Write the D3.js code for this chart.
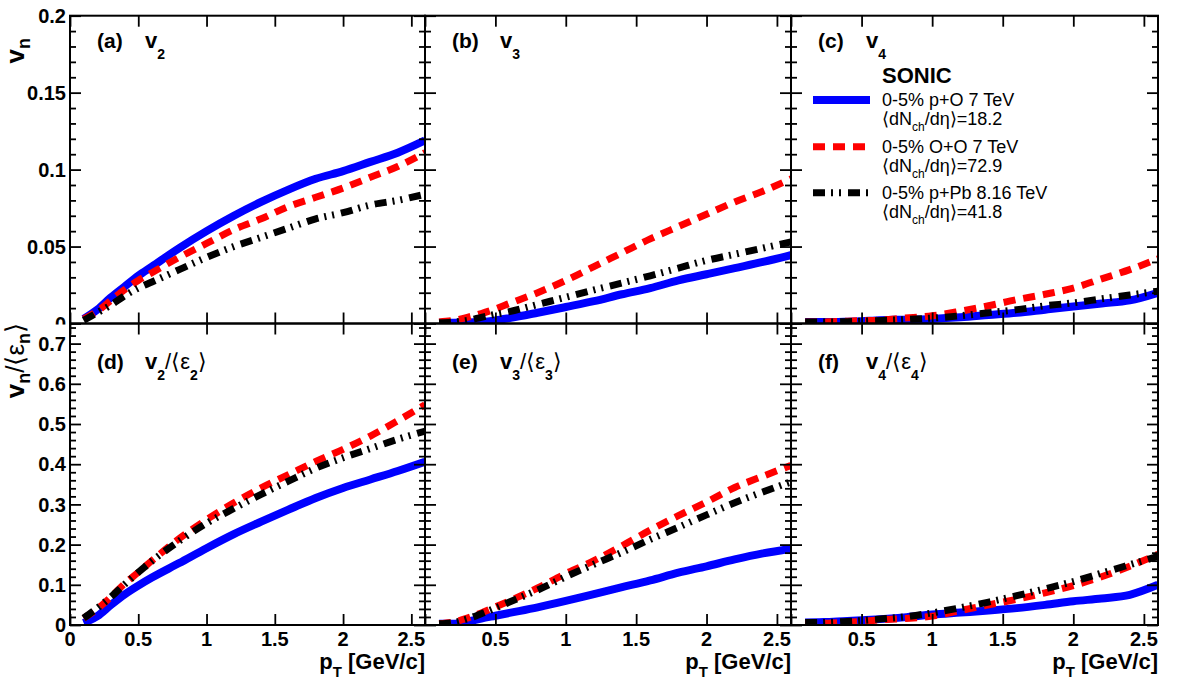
<!DOCTYPE html>
<html><head><meta charset="utf-8">
<script src="https://cdn.jsdelivr.net/npm/d3@7"></script>
<style>
body{margin:0;background:#fff}
svg{display:block}
text{font-family:"Liberation Sans",Arial,Helvetica,sans-serif;fill:#000}
</style>
</head><body>
<svg id="c" width="1182" height="692"></svg>
<script>
// ---------------- data ----------------
const pt = [0.1,0.2,0.3,0.4,0.5,0.6,0.8,1.0,1.2,1.4,1.6,1.8,2.0,2.2,2.4,2.6];

// (a) v2
const v2_pO  = [0.003,0.009,0.017,0.024,0.031,0.037,0.049,0.060,0.070,0.079,0.087,0.094,0.099,0.105,0.111,0.119];
const v2_OO  = [0.003,0.008,0.015,0.022,0.028,0.033,0.043,0.052,0.061,0.068,0.076,0.082,0.088,0.095,0.102,0.111];
const v2_pPb = [0.002,0.007,0.012,0.018,0.023,0.027,0.035,0.043,0.050,0.056,0.062,0.068,0.072,0.077,0.080,0.084];
// (b) v3
const v3_pO  = [0.0005,0.0005,0.0006,0.001,0.002,0.0035,0.007,0.0107,0.0145,0.019,0.023,0.028,0.032,0.036,0.040,0.0445];
const v3_OO  = [0.001,0.002,0.004,0.0065,0.0095,0.013,0.020,0.028,0.037,0.046,0.055,0.063,0.071,0.079,0.086,0.094];
const v3_pPb = [0.0005,0.001,0.002,0.004,0.006,0.0077,0.0124,0.017,0.0218,0.0263,0.031,0.036,0.041,0.045,0.049,0.053];
// (c) v4
const v4_pO  = [0.001,0.001,0.001,0.0012,0.0015,0.002,0.0025,0.003,0.004,0.0055,0.007,0.009,0.011,0.013,0.015,0.020];
const v4_OO  = [0.001,0.001,0.0012,0.0015,0.0018,0.002,0.0035,0.005,0.008,0.0115,0.0155,0.019,0.023,0.029,0.035,0.042];
const v4_pPb = [0.001,0.001,0.001,0.0012,0.0015,0.0018,0.0025,0.0035,0.005,0.007,0.009,0.0115,0.0134,0.016,0.0185,0.021];
// (d) v2/<eps2>
const r2_pO  = [0.005,0.022,0.050,0.076,0.098,0.118,0.154,0.191,0.226,0.257,0.287,0.316,0.341,0.362,0.383,0.406];
const r2_OO  = [0.017,0.040,0.070,0.103,0.131,0.160,0.215,0.262,0.304,0.341,0.374,0.407,0.437,0.470,0.508,0.548];
const r2_pPb = [0.017,0.042,0.070,0.101,0.131,0.159,0.209,0.253,0.290,0.325,0.358,0.390,0.416,0.439,0.462,0.482];
// (e) v3/<eps3>
const r3_pO  = [0.003,0.003,0.008,0.016,0.023,0.030,0.044,0.060,0.077,0.094,0.111,0.130,0.146,0.163,0.178,0.190];
const r3_OO  = [0.003,0.007,0.017,0.030,0.045,0.060,0.092,0.128,0.160,0.197,0.236,0.272,0.306,0.342,0.370,0.397];
const r3_pPb = [0.003,0.006,0.015,0.028,0.042,0.057,0.087,0.120,0.151,0.181,0.213,0.243,0.274,0.304,0.331,0.356];
// (f) v4/<eps4>
const r4_pO  = [0.006,0.007,0.008,0.010,0.012,0.014,0.019,0.026,0.031,0.036,0.042,0.050,0.059,0.066,0.075,0.100];
const r4_OO  = [0.004,0.004,0.005,0.007,0.009,0.012,0.016,0.022,0.036,0.050,0.064,0.080,0.098,0.120,0.146,0.176];
const r4_pPb = [0.006,0.006,0.007,0.009,0.011,0.014,0.020,0.030,0.043,0.057,0.073,0.090,0.108,0.129,0.150,0.171];

const xTicks = [0,0.5,1,1.5,2,2.5];
const yTicksTop = [0,0.05,0.1,0.15,0.2];
const yTicksBot = [0,0.1,0.2,0.3,0.4,0.5,0.6,0.7];
const xDomain = [0,2.6];
const yDomTop = [0,0.2];
const yDomBot = [0,0.75];

const panelLabels = ['(a)','(b)','(c)','(d)','(e)','(f)'];
const harmonics = ['2','3','4','2','3','4'];
const legendSystems = ['0-5% p+O 7 TeV','0-5% O+O 7 TeV','0-5% p+Pb 8.16 TeV'];
const legendMult = ['18.2','72.9','41.8'];

// ---------------- layout / style ----------------
const W = 1182, H = 692;
const colX = [[70,425],[425,791],[791,1158]];
const rowY = [[323.5,15.7],[625,323.5]];
const styles = [
  {color:'#0000ff', w:8, dash:null},
  {color:'#ff0000', w:7, dash:'12,8'},
  {color:'#000000', w:7, dash:'12,6,2,6,2,7'}
];
const panels = [
  {row:0,col:0,data:[v2_pO,v2_OO,v2_pPb]},
  {row:0,col:1,data:[v3_pO,v3_OO,v3_pPb]},
  {row:0,col:2,data:[v4_pO,v4_OO,v4_pPb]},
  {row:1,col:0,data:[r2_pO,r2_OO,r2_pPb]},
  {row:1,col:1,data:[r3_pO,r3_OO,r3_pPb]},
  {row:1,col:2,data:[r4_pO,r4_OO,r4_pPb]}
];

const svg = d3.select('#c');
svg.append('rect').attr('width',W).attr('height',H).attr('fill','#fff');
const defs = svg.append('defs');
defs.append('clipPath').attr('id','topLab').append('rect')
  .attr('x',0).attr('y',0).attr('width',80).attr('height',324.5);

const TICK_W = 1.8;

panels.forEach((p,i)=>{
  const [x0,x1] = colX[p.col];
  const [yb,yt] = rowY[p.row];
  const x = d3.scaleLinear().domain(xDomain).range([x0,x1]);
  const y = d3.scaleLinear().domain(p.row===0?yDomTop:yDomBot).range([yb,yt]);
  const majorsY = p.row===0?yTicksTop:yTicksBot;
  const minorsY = y.ticks(p.row===0?20:40).filter(v=>!majorsY.some(m=>Math.abs(m-v)<1e-9));

  const g = svg.append('g');
  const cid = 'clip'+i;
  defs.append('clipPath').attr('id',cid).append('rect')
    .attr('x',x0).attr('y',yt).attr('width',x1-x0).attr('height',yb-yt);

  // curves
  const line = d3.line().x(d=>x(d[0])).y(d=>y(d[1])).curve(d3.curveMonotoneX);
  const cg = g.append('g').attr('clip-path',`url(#${cid})`);
  p.data.forEach((s,k)=>{
    const st = styles[k];
    cg.append('path')
      .datum(pt.map((v,j)=>[v,s[j]]))
      .attr('d',line)
      .attr('fill','none')
      .attr('stroke',st.color)
      .attr('stroke-width',st.w)
      .attr('stroke-dasharray',st.dash)
      .attr('stroke-linecap','butt')
      .attr('stroke-linejoin','round');
  });

  // ticks
  const axStyle = sel=>{ sel.select('.domain').remove(); sel.selectAll('line').attr('stroke-width',TICK_W); };
  g.append('g').attr('transform',`translate(${x0},0)`)
    .call(d3.axisLeft(y).tickValues(majorsY).tickSize(-11).tickFormat('')).call(axStyle);
  g.append('g').attr('transform',`translate(${x0},0)`)
    .call(d3.axisLeft(y).tickValues(minorsY).tickSize(-6).tickFormat('')).call(axStyle);
  g.append('g').attr('transform',`translate(${x1},0)`)
    .call(d3.axisRight(y).tickValues(majorsY).tickSize(-11).tickFormat('')).call(axStyle);
  g.append('g').attr('transform',`translate(${x1},0)`)
    .call(d3.axisRight(y).tickValues(minorsY).tickSize(-6).tickFormat('')).call(axStyle);
  g.append('g').attr('transform',`translate(0,${yb})`)
    .call(d3.axisBottom(x).tickValues(xTicks).tickSize(-11).tickFormat('')).call(axStyle);
  g.append('g').attr('transform',`translate(0,${yt})`)
    .call(d3.axisTop(x).tickValues(xTicks).tickSize(-11).tickFormat('')).call(axStyle);

  // frame
  g.append('rect').attr('x',x0).attr('y',yt).attr('width',x1-x0).attr('height',yb-yt)
    .attr('fill','none').attr('stroke','#000').attr('stroke-width',2);

  // y tick labels (first column)
  if(p.col===0){
    const lg = g.append('g');
    if(p.row===0) lg.attr('clip-path','url(#topLab)');
    lg.selectAll('text').data(majorsY).join('text')
      .attr('x',x0-4).attr('y',d=>y(d)).attr('dy','0.36em')
      .attr('text-anchor','end').attr('font-weight','bold').attr('font-size',20)
      .text(d=>d3.format('~g')(d));
  }
  // x tick labels (bottom row)
  if(p.row===1){
    g.append('g').selectAll('text').data(xTicks.filter(d=>p.col===0||d>0)).join('text')
      .attr('x',d=>x(d)).attr('y',646).attr('text-anchor','middle')
      .attr('font-weight','bold').attr('font-size',20)
      .text(d=>d3.format('~g')(d));
    const t = g.append('text').attr('x',x1).attr('y',669).attr('text-anchor','end')
      .attr('font-weight','bold').attr('font-size',22);
    t.append('tspan').text('p');
    t.append('tspan').attr('font-size',15).attr('dy',8).text('T');
    t.append('tspan').attr('dy',-8).text(' [GeV/c]');
  }

  // panel label
  const by = p.row===0 ? 48 : 369;
  g.append('text').attr('x',x0+27).attr('y',by).attr('font-weight','bold').attr('font-size',21).text(panelLabels[i]);
  const lt = g.append('text').attr('x',x0+75).attr('y',by).attr('font-weight','bold').attr('font-size',22);
  lt.append('tspan').text('v');
  lt.append('tspan').attr('font-size',14).attr('dy',11).text(harmonics[i]);
  if(p.row===1){
    lt.append('tspan').attr('dy',-11).attr('font-weight','normal').text('/\u27E8\u03B5');
    lt.append('tspan').attr('font-size',14).attr('dy',11).text(harmonics[i]);
    lt.append('tspan').attr('dy',-11).attr('font-weight','normal').text('\u27E9');
  }
});

// y axis titles
const yt1 = svg.append('text').attr('transform','translate(24,38) rotate(-90)')
  .attr('text-anchor','end').attr('font-weight','bold').attr('font-size',26);
yt1.append('tspan').text('v');
yt1.append('tspan').attr('font-size',18).attr('dy',6).text('n');

const yt2 = svg.append('text').attr('transform','translate(24,323) rotate(-90)')
  .attr('text-anchor','end').attr('font-weight','bold').attr('font-size',26);
yt2.append('tspan').text('v');
yt2.append('tspan').attr('font-size',18).attr('dy',6).text('n');
yt2.append('tspan').attr('dy',-6).attr('font-weight','normal').text('/\u27E8\u03B5');
yt2.append('tspan').attr('font-size',18).attr('dy',6).text('n');
yt2.append('tspan').attr('dy',-6).attr('font-weight','normal').text('\u27E9');

// legend in panel (c)
const lg = svg.append('g');
lg.append('text').attr('x',882).attr('y',83).attr('font-weight','bold').attr('font-size',22).text('SONIC');
const entryY = [100,146.7,192.7];
legendSystems.forEach((s,k)=>{
  const st = styles[k];
  lg.append('line').attr('x1',813).attr('x2',870).attr('y1',entryY[k]).attr('y2',entryY[k])
    .attr('stroke',st.color).attr('stroke-width',st.w).attr('stroke-dasharray',st.dash);
  lg.append('text').attr('x',882).attr('y',entryY[k]+6).attr('font-size',18).text(s);
  const t = lg.append('text').attr('x',882).attr('y',entryY[k]+25).attr('font-size',18);
  t.append('tspan').text('\u27E8dN');
  t.append('tspan').attr('font-size',12).attr('dy',6).text('ch');
  t.append('tspan').attr('dy',-6).text('/d\u03B7\u27E9=' + legendMult[k]);
});
</script>
</body></html>
